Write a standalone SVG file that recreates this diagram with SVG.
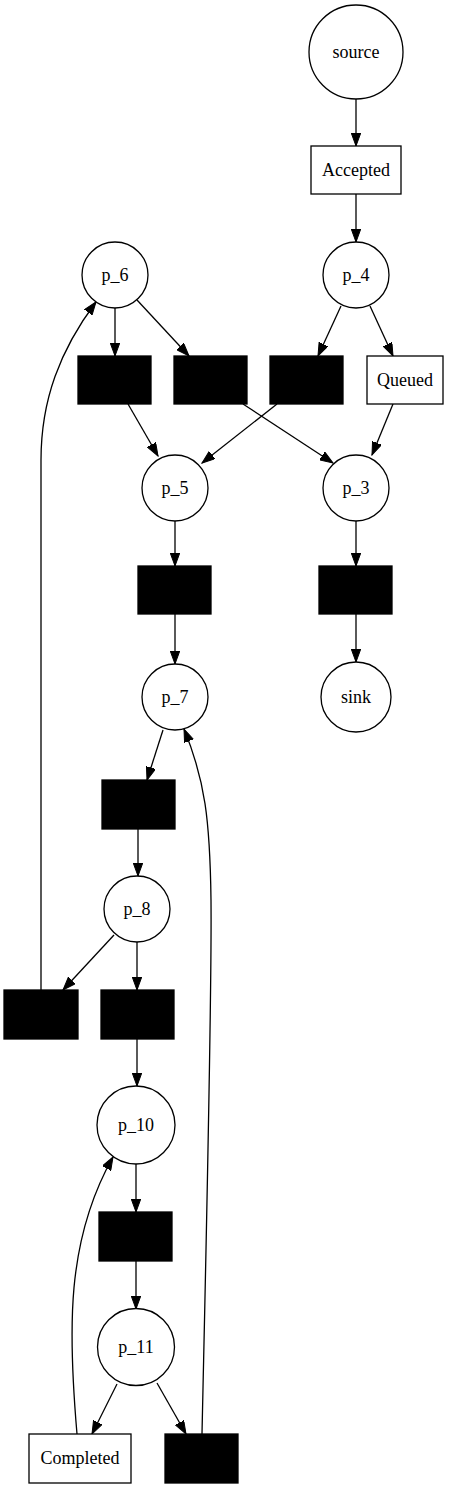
<svg xmlns="http://www.w3.org/2000/svg" width="449" height="1488" viewBox="0 0 449 1488">
<style>
.p{fill:#fff;stroke:#000;stroke-width:1.3}
.t{fill:#000;stroke:#000;stroke-width:1.3}
.l{fill:#fff;stroke:#000;stroke-width:1.3}
text{font-family:"Liberation Serif","Times New Roman",serif;font-size:18px;text-anchor:middle;fill:#000}
.e{fill:none;stroke:#000;stroke-width:1.3;marker-end:url(#a)}
</style>
<defs>
<marker id="a" markerUnits="userSpaceOnUse" markerWidth="14" markerHeight="10" refX="13" refY="4.75" orient="auto">
<path d="M0,0 L13,4.75 L0,9.5 z" fill="#000" stroke="#000" stroke-width="1"/>
</marker>
</defs>
<rect width="449" height="1488" fill="#fff"/>
<g id="edges">
<path class="e" d="M356,99 L356,146"/>
<path class="e" d="M356,194 L356,242"/>
<path class="e" d="M341,306 L318,356"/>
<path class="e" d="M370,306 L393,356"/>
<path class="e" d="M115,308 L115,356"/>
<path class="e" d="M137,300 L189,356"/>
<path class="e" d="M128,404 L158,456"/>
<path class="e" d="M243,404 L333,463"/>
<path class="e" d="M277,404 L202,463"/>
<path class="e" d="M393,404 L372,455"/>
<path class="e" d="M175,521 L175,566"/>
<path class="e" d="M356,521 L356,566"/>
<path class="e" d="M175,614 L175,664"/>
<path class="e" d="M356,614 L356,662"/>
<path class="e" d="M163,730 L147,780"/>
<path class="e" d="M138,829 L138,876"/>
<path class="e" d="M114,935 L63,990"/>
<path class="e" d="M137,942 L137,990"/>
<path class="e" d="M137,1039 L137,1086"/>
<path class="e" d="M136,1164 L136,1212"/>
<path class="e" d="M136,1261 L136,1309"/>
<path class="e" d="M117,1384 L92,1434"/>
<path class="e" d="M157,1383 L186,1434"/>
<path class="e" d="M41,990 L41,460 C41,400 60,350 96,302"/>
<path class="e" d="M202,1434 C206,1250 212,1000 211,900 C210,820 205,780 184,729"/>
<path class="e" d="M77,1434 C68,1330 66,1240 113,1157"/>
</g>
<g id="source"><circle class="p" cx="356" cy="52" r="47"/><text x="356" y="58">source</text></g>
<g id="Accepted"><rect class="l" x="311" y="146" width="90" height="48"/><text x="356" y="176">Accepted</text></g>
<g id="p_4"><circle class="p" cx="356" cy="275" r="33"/><text x="356" y="281">p_4</text></g>
<g id="p_6"><circle class="p" cx="115" cy="275" r="33"/><text x="115" y="281">p_6</text></g>
<g id="t1"><rect class="t" x="78" y="356" width="73" height="48"/></g>
<g id="t2"><rect class="t" x="174" y="356" width="73" height="48"/></g>
<g id="t3"><rect class="t" x="270" y="356" width="73" height="48"/></g>
<g id="Queued"><rect class="l" x="367" y="356" width="76" height="48"/><text x="405" y="386">Queued</text></g>
<g id="p_5"><circle class="p" cx="175" cy="488" r="33"/><text x="175" y="494">p_5</text></g>
<g id="p_3"><circle class="p" cx="356" cy="488" r="33"/><text x="356" y="494">p_3</text></g>
<g id="t4"><rect class="t" x="138" y="566" width="73" height="48"/></g>
<g id="t5"><rect class="t" x="319" y="566" width="73" height="48"/></g>
<g id="p_7"><circle class="p" cx="175" cy="697" r="33"/><text x="175" y="703">p_7</text></g>
<g id="sink"><circle class="p" cx="356" cy="697" r="35"/><text x="356" y="703">sink</text></g>
<g id="t6"><rect class="t" x="102" y="780" width="73" height="49"/></g>
<g id="p_8"><circle class="p" cx="137" cy="909" r="33"/><text x="137" y="915">p_8</text></g>
<g id="t7"><rect class="t" x="4" y="990" width="74" height="49"/></g>
<g id="t8"><rect class="t" x="101" y="990" width="73" height="49"/></g>
<g id="p_10"><circle class="p" cx="136" cy="1125" r="39"/><text x="136" y="1131">p_10</text></g>
<g id="t9"><rect class="t" x="99" y="1212" width="73" height="49"/></g>
<g id="p_11"><circle class="p" cx="136" cy="1347" r="38.5"/><text x="136" y="1353">p_11</text></g>
<g id="Completed"><rect class="l" x="29" y="1434" width="102" height="49"/><text x="80" y="1464">Completed</text></g>
<g id="t10"><rect class="t" x="165" y="1434" width="73" height="49"/></g>
</svg>
